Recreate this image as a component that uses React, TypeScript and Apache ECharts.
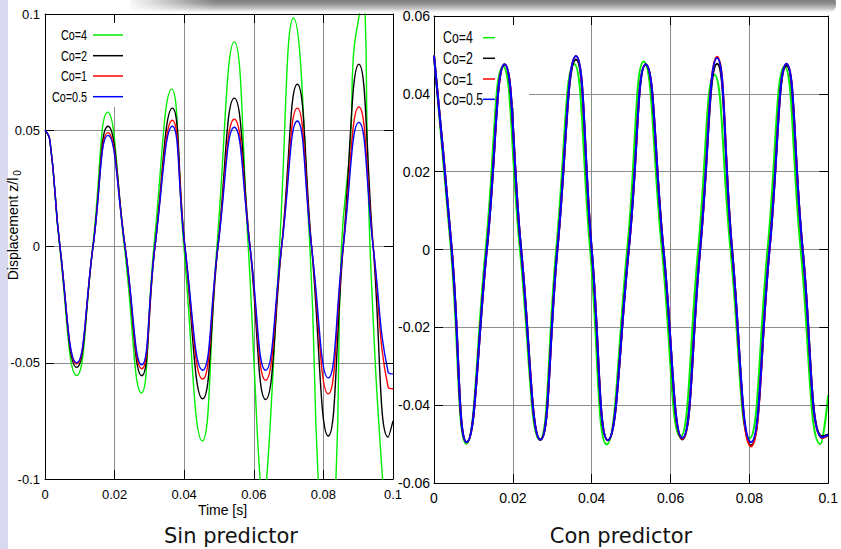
import React, { useEffect, useRef } from "react";
import * as echarts from "echarts";

// ---------- data ----------
const seriesNames = ["Co=4", "Co=2", "Co=1", "Co=0.5"];
const seriesColors = ["#00ee00", "#000000", "#ff0000", "#0000ff"];

const xTicks = [0, 0.02, 0.04, 0.06, 0.08, 0.1];
const ySinTicks = [-0.1, -0.05, 0, 0.05, 0.1];
const yConTicks = [-0.06, -0.04, -0.02, 0, 0.02, 0.04, 0.06];

// "Sin predictor" (left panel)
const timeSin = [0, 0.0014, 0.0043, 0.0091, 0.0138, 0.0181, 0.023, 0.0278, 0.0316, 0.0366, 0.0402, 0.0453, 0.0497, 0.0544, 0.0589, 0.0634, 0.068, 0.0725, 0.0766, 0.0814, 0.0857, 0.0902, 0.0943, 0.0986, 0.1];
const sinCo2 = [0.05, 0.0457, 0, -0.052, 0, 0.0517, 0, -0.0556, 0, 0.0595, 0, -0.0655, 0, 0.0638, 0, -0.0658, 0, 0.0698, 0, -0.0815, 0, 0.0784, 0, -0.082, -0.075];
const sinCo1 = [0.05, 0.0457, 0, -0.0505, 0, 0.049, 0, -0.0526, 0, 0.0543, 0, -0.057, 0, 0.0547, 0, -0.0575, 0, 0.0595, 0, -0.0634, 0, 0.06, 0, -0.0605, -0.0612];
const sinCo05 = [0.05, 0.0457, 0, -0.05, 0, 0.0478, 0, -0.0509, 0, 0.0517, 0, -0.0532, 0, 0.0513, 0, -0.0532, 0, 0.054, 0, -0.0565, 0, 0.0534, 0, -0.054, -0.0548];
const timeSinCo4 = [0, 0.0014, 0.0042, 0.0091, 0.0137, 0.018, 0.0228, 0.0277, 0.0313, 0.0364, 0.0399, 0.0452, 0.0494, 0.0544, 0.0584, 0.0603, 0.0618, 0.0628, 0.0637, 0.0654, 0.0674, 0.0714, 0.0761, 0.0785, 0.081, 0.0836, 0.0852, 0.0878, 0.0886, 0.0903, 0.0911, 0.092, 0.0926, 0.0938, 0.097, 0.0988, 0.1];
const sinCo4 = [0.05, 0.0457, 0, -0.0555, 0, 0.0578, 0, -0.063, 0, 0.0677, 0, -0.0836, 0, 0.088, 0, -0.0578, -0.1, -0.112, -0.1, -0.0578, 0, 0.0983, 0, -0.1, -0.15, -0.1, 0, 0.0457, 0.0816, 0.0996, 0.106, 0.0996, 0.0457, -0.0147, -0.1, -0.125, -0.12];

// "Con predictor" (right panel)
const timeCon = [0, 0.0045, 0.0083, 0.0134, 0.0179, 0.0221, 0.027, 0.0313, 0.036, 0.04, 0.0441, 0.0494, 0.0537, 0.0582, 0.063, 0.0675, 0.0718, 0.0756, 0.0804, 0.0851, 0.0894, 0.0935, 0.0985, 0.1];
const conCo2 = [0.0498, 0, -0.0495, 0, 0.0475, 0, -0.0489, 0, 0.0488, 0, -0.049, 0, 0.0475, 0, -0.0488, 0, 0.0477, 0, -0.0503, 0, 0.0472, 0, -0.048, -0.0475];
const conCo1 = [0.0498, 0, -0.0495, 0, 0.0476, 0, -0.0489, 0, 0.0497, 0, -0.049, 0, 0.0476, 0, -0.0486, 0, 0.0495, 0, -0.0506, 0, 0.0477, 0, -0.0485, -0.0478];
const conCo05 = [0.0498, 0, -0.0495, 0, 0.0476, 0, -0.0489, 0, 0.0497, 0, -0.049, 0, 0.0476, 0, -0.0484, 0, 0.0492, 0, -0.0495, 0, 0.0477, 0, -0.0483, -0.0477];
const timeConCo4 = [0, 0.0043, 0.0082, 0.0131, 0.0175, 0.0218, 0.0268, 0.031, 0.0355, 0.0396, 0.0438, 0.049, 0.0532, 0.0578, 0.0625, 0.067, 0.0711, 0.0752, 0.08, 0.0846, 0.0889, 0.093, 0.098, 0.1];
const conCo4 = [0.0498, 0, -0.0499, 0, 0.047, 0, -0.0489, 0, 0.0477, 0, -0.0501, 0, 0.0483, 0, -0.0481, 0, 0.0449, 0, -0.0485, 0, 0.047, 0, -0.05, -0.0374];

const panelTitles = ["Sin predictor", "Con predictor"];
const xAxisTitle = "Time [s]";
const yAxisTitle = "Displacement z/l";
const yAxisTitleSub = "0";

// ---------- styling ----------
const FONT_SANS = '"Liberation Sans", Arial, sans-serif';
const GRID_COLOR = "#8c8c8c";

function zip(xs: number[], ys: number[]) {
  return xs.map((x, i) => [x, ys[i]]);
}

function axisPair(kind: "x" | "y", gridIndex: number, ticks: number[], fontSize: number, margin: number) {
  const min = ticks[0];
  const max = ticks[ticks.length - 1];
  const interval = +(ticks[1] - ticks[0]).toFixed(6);
  const main = {
    gridIndex,
    type: "value",
    min,
    max,
    interval,
    position: kind === "x" ? "bottom" : "left",
    axisLine: { show: true, onZero: false, lineStyle: { color: "#000", width: 1 } },
    axisTick: { show: true, inside: true, length: 9, lineStyle: { color: "#000", width: 1 } },
    axisLabel: { show: true, margin, fontFamily: FONT_SANS, fontSize, color: "#000" },
    splitLine: { show: true, showMinLine: false, showMaxLine: false, lineStyle: { color: GRID_COLOR, width: 1 } },
    z: 0,
  };
  const mirror = {
    gridIndex,
    type: "value",
    min,
    max,
    interval,
    position: kind === "x" ? "top" : "right",
    axisLine: { show: true, onZero: false, lineStyle: { color: "#000", width: 1 } },
    axisTick: { show: true, inside: true, length: 9, lineStyle: { color: "#000", width: 1 } },
    axisLabel: { show: false },
    splitLine: { show: false },
    z: 4,
  };
  return [main, mirror];
}

function lineSeries(name: string, color: string, xs: number[], ys: number[], axisIndex: number, width: number) {
  return {
    name,
    type: "line",
    xAxisIndex: axisIndex,
    yAxisIndex: axisIndex,
    data: zip(xs, ys),
    showSymbol: false,
    symbol: "none",
    smooth: 0.5,
    clip: true,
    silent: true,
    lineStyle: { color, width },
    itemStyle: { color },
    z: 3,
  };
}

function legendGraphics(rows: number[], textX: number, align: string, lineX0: number, lineX1: number, fontSize: number, sx: number) {
  const els: any[] = [];
  seriesNames.forEach((n, i) => {
    els.push({
      type: "text",
      x: textX,
      y: rows[i],
      scaleX: sx,
      z: 10,
      style: { text: n, font: `${fontSize}px ${FONT_SANS}`, fill: "#000", align, verticalAlign: "middle" },
    });
    els.push({
      type: "line",
      z: 10,
      shape: { x1: lineX0, y1: rows[i], x2: lineX1, y2: rows[i] },
      style: { stroke: seriesColors[i], lineWidth: 1.5 },
    });
  });
  return els;
}

function buildOption() {
  const [x0, x0m] = axisPair("x", 0, xTicks, 13, 9);
  const [y0, y0m] = axisPair("y", 0, ySinTicks, 13, 5);
  const [x1, x1m] = axisPair("x", 1, xTicks, 14, 8);
  const [y1, y1m] = axisPair("y", 1, yConTicks, 14, 4);

  const sinSeries = [
    lineSeries(seriesNames[0], seriesColors[0], timeSinCo4, sinCo4, 0, 1.4),
    lineSeries(seriesNames[1], seriesColors[1], timeSin, sinCo2, 0, 1.4),
    lineSeries(seriesNames[2], seriesColors[2], timeSin, sinCo1, 0, 1.4),
    lineSeries(seriesNames[3], seriesColors[3], timeSin, sinCo05, 0, 1.4),
  ];
  const conSeries = [
    lineSeries(seriesNames[0], seriesColors[0], timeConCo4, conCo4, 2, 2),
    lineSeries(seriesNames[1], seriesColors[1], timeCon, conCo2, 2, 2),
    lineSeries(seriesNames[2], seriesColors[2], timeCon, conCo1, 2, 2),
    lineSeries(seriesNames[3], seriesColors[3], timeCon, conCo05, 2, 2),
  ];

  const graphic: any[] = [
    // slide decorations
    { type: "rect", z: 0, shape: { x: 0, y: 0, width: 8, height: 549 }, style: { fill: "#d9d9f0" } },
    {
      type: "rect",
      z: 0,
      shape: { x: 130, y: -6, width: 706, height: 20, r: 9 },
      style: {
        fill: new echarts.graphic.LinearGradient(0, 0, 0, 1, [
          { offset: 0, color: "#6a6a6a" },
          { offset: 0.45, color: "#8a8a8a" },
          { offset: 0.75, color: "#c8c8c8" },
          { offset: 1, color: "rgba(255,255,255,0)" },
        ]),
      },
    },
    {
      type: "rect",
      z: 0,
      shape: { x: 125, y: 0, width: 90, height: 14 },
      style: {
        fill: new echarts.graphic.LinearGradient(0, 0, 1, 0, [
          { offset: 0, color: "rgba(255,255,255,1)" },
          { offset: 1, color: "rgba(255,255,255,0)" },
        ]),
      },
    },
    // legend boxes (hide grid lines like gnuplot's key)
    { type: "rect", z: 1, shape: { x: 46, y: 15, width: 84, height: 92 }, style: { fill: "#fff" } },
    { type: "rect", z: 1, shape: { x: 435, y: 17, width: 94, height: 91 }, style: { fill: "#fff" } },
    ...legendGraphics([35, 55.7, 76, 96.7], 87, "right", 93, 123, 15, 0.72),
    ...legendGraphics([37.7, 58.3, 79, 99.3], 443, "left", 483, 495, 16, 0.77),
    // axis titles
    {
      type: "text",
      x: 13,
      y: 229,
      rotation: Math.PI / 2,
      z: 10,
      style: { text: yAxisTitle, font: `14px ${FONT_SANS}`, fill: "#000", align: "center", verticalAlign: "middle" },
    },
    {
      type: "text",
      x: 17.5,
      y: 173,
      rotation: Math.PI / 2,
      z: 10,
      style: { text: yAxisTitleSub, font: `10px ${FONT_SANS}`, fill: "#000", align: "center", verticalAlign: "middle" },
    },
    {
      type: "text",
      x: 222.5,
      y: 510,
      z: 10,
      style: { text: xAxisTitle, font: `14px ${FONT_SANS}`, fill: "#000", align: "center", verticalAlign: "middle" },
    },
    // panel captions
    {
      type: "text",
      x: 231,
      y: 536,
      z: 10,
      style: { text: panelTitles[0], font: `21px "DejaVu Sans", sans-serif`, fill: "#111", align: "center", verticalAlign: "middle" },
    },
    {
      type: "text",
      x: 621,
      y: 536,
      z: 10,
      style: { text: panelTitles[1], font: `21px "DejaVu Sans", sans-serif`, fill: "#111", align: "center", verticalAlign: "middle" },
    },
  ];

  return {
    animation: false,
    backgroundColor: "#ffffff",
    grid: [
      { left: 45, top: 14, width: 348, height: 465, containLabel: false },
      { left: 434, top: 16, width: 397, height: 467, containLabel: false },
    ],
    xAxis: [x0, x0m, x1, x1m],
    yAxis: [y0, y0m, y1, y1m],
    series: [...sinSeries, ...conSeries],
    graphic,
  };
}

export default function App() {
  const ref = useRef<HTMLDivElement>(null);
  useEffect(() => {
    if (!ref.current) return;
    const chart = echarts.init(ref.current, null, { renderer: "svg" });
    chart.setOption(buildOption() as any);
    return () => chart.dispose();
  }, []);
  return (
    <div
      ref={ref}
      style={{ position: "fixed", left: 0, top: 0, width: 841, height: 549, background: "#fff" }}
    />
  );
}
